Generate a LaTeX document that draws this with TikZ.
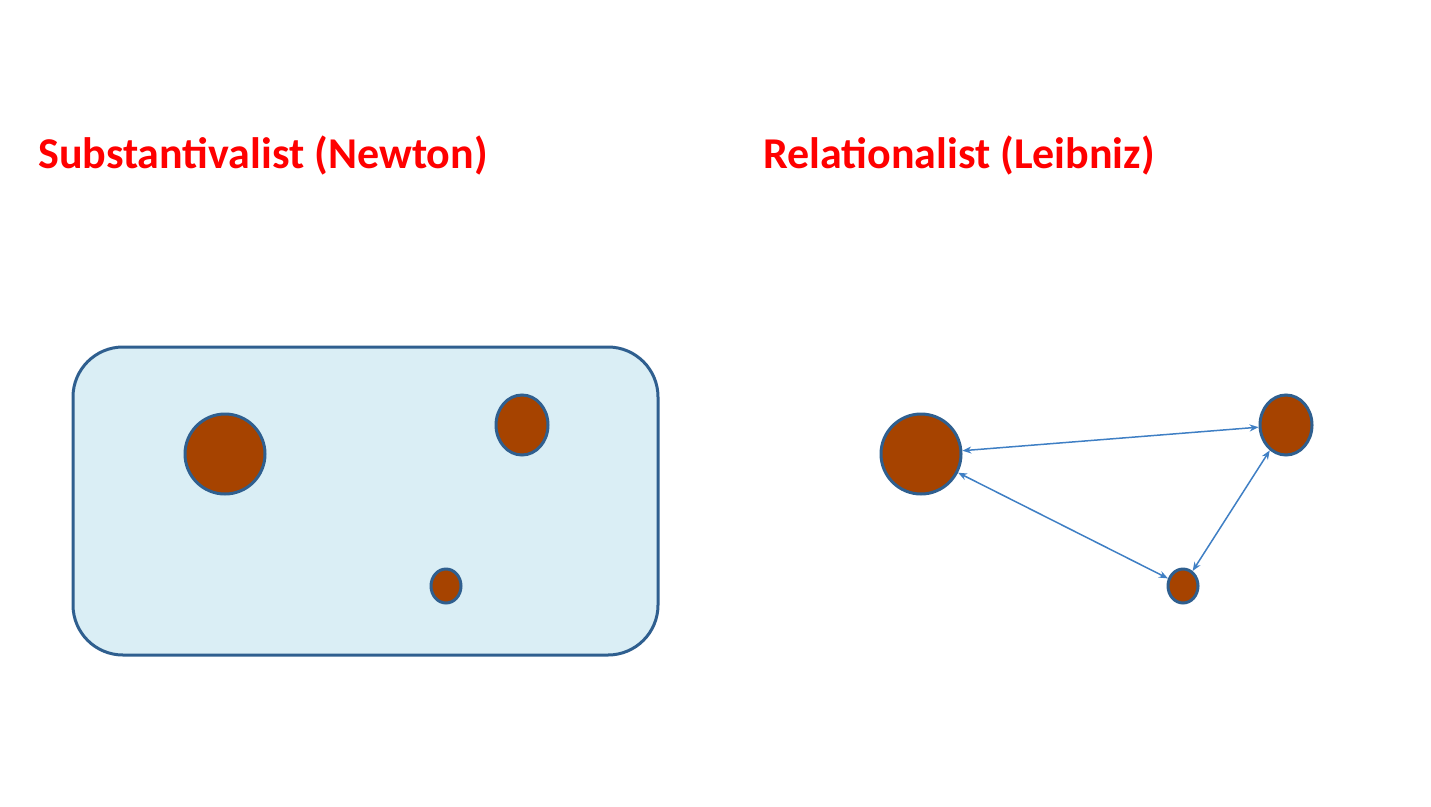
\documentclass[tikz,border=0pt]{standalone}
\usepackage{fontspec}
\setmainfont{Carlito}
\usetikzlibrary{arrows.meta}
\definecolor{ttl}{HTML}{FF0000}
\definecolor{bord}{HTML}{2F5F8F}
\definecolor{boxfill}{HTML}{DAEEF5}
\definecolor{ball}{HTML}{A64300}
\definecolor{arr}{HTML}{3F7FC4}
\begin{document}
\begin{tikzpicture}[x=1pt,y=-1pt,
  title/.style={anchor=west,text=ttl,font=\fontsize{44}{50}\selectfont\bfseries,inner sep=0pt},
  body/.style={ellipse,draw=bord,line width=3pt,fill=ball,inner sep=0pt},
  big/.style={body,minimum width=80pt,minimum height=80pt},
  mid/.style={body,minimum width=52pt,minimum height=60pt},
  small/.style={body,minimum width=30pt,minimum height=34pt},
  rel/.style={draw=arr,line width=1.5pt,{Stealth[length=9pt,width=7pt]}-{Stealth[length=9pt,width=7pt]}}]
\useasboundingbox (0,0) rectangle (1431,806);
\usetikzlibrary{shapes.geometric}
\node[title] (t1) at (38,155) {Substantivalist (Newton)};
\node[title] (t2) at (763,155) {Relationalist (Leibniz)};
\node[draw=bord,line width=3pt,fill=boxfill,rounded corners=50pt,minimum width=585pt,minimum height=308pt,inner sep=0pt] (space) at (365.5,501) {};
\node[big] (a1) at (225,454) {};
\node[mid] (b1) at (522,425) {};
\node[small] (c1) at (446,586) {};
\node[big] (a2) at (921,454) {};
\node[mid] (b2) at (1286,425) {};
\node[small] (c2) at (1183,586) {};
\draw[rel] (a2) -- (b2);
\draw[rel] (a2) -- (c2);
\draw[rel] (c2) -- (b2);
\end{tikzpicture}
\end{document}
